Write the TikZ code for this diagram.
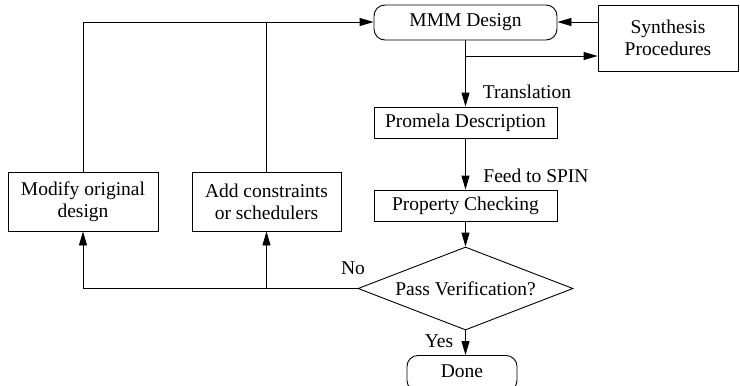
\documentclass[tikz,border=0pt]{standalone}
\usepackage{fontspec}
\setmainfont{Liberation Serif}
\usetikzlibrary{arrows.meta,shapes.geometric}
\begin{document}
\begin{tikzpicture}[x=1pt,y=-1pt,
  every node/.style={font=\fontsize{19.5}{22}\selectfont},
  box/.style={draw,line width=0.9pt,inner sep=0pt,align=center},
  rbox/.style={box,rounded corners=11pt},
  decision/.style={draw,line width=0.9pt,diamond,aspect=2.59,inner sep=0pt},
  conn/.style={line width=0.9pt},
  arr/.style={conn,-{Triangle[length=14pt,width=8pt]}},
  lbl/.style={inner sep=0pt}]
\useasboundingbox (0,0) rectangle (740,386);
\node[rbox,minimum width=183pt,minimum height=35pt] (mmm) at (465.5,22.5) {MMM Design};
\node[box,minimum width=140pt,minimum height=66pt] (syn) at (668,38) {Synthesis\\Procedures};
\node[box,minimum width=183pt,minimum height=31pt] (prom) at (465.5,122.5) {Promela Description};
\node[box,minimum width=183pt,minimum height=31pt] (prop) at (465.5,205.5) {Property Checking};
\node[decision,minimum width=215pt,minimum height=83pt] (pass) at (465.5,288.5) {Pass Verification?};
\node[rbox,minimum width=110pt,minimum height=36pt,anchor=north] (done) at (462,355) {};
\node[lbl] (donet) at (462,371) {Done};
\node[box,minimum width=150pt,minimum height=59pt] (mod) at (83,201.5) {Modify original\\design};
\node[box,minimum width=149pt,minimum height=59pt] (add) at (266.5,201.5) {Add constraints\\or schedulers};
\coordinate (br) at (465.5,56);
\coordinate (tl) at (83,22);
\coordinate (ta) at (266.5,22);
\coordinate (bl) at (83,288.5);
\coordinate (ba) at (266.5,288.5);
\draw[arr] (mmm.south) -- (prom.north);
\draw[arr] (br) -- (br -| syn.west);
\draw[arr] (syn.west |- tl) -- (mmm.east |- tl);
\draw[arr] (prom.south) -- (prop.north);
\draw[arr] (prop.south) -- (pass.north);
\draw[arr] (pass.south) -- (pass.south |- done.north);
\draw[conn] (pass.west) -- (bl);
\draw[arr] (bl) -- (mod.south);
\draw[arr] (ba) -- (add.south);
\draw[arr] (mod.north) -- (tl) -- (mmm.west |- tl);
\draw[conn] (add.north) -- (ta);
\node[lbl] (tr) at (527,92) {Translation};
\node[lbl] (fs) at (536,176) {Feed to SPIN};
\node[lbl] (no) at (353,268) {No};
\node[lbl] (yes) at (439,341) {Yes};
\end{tikzpicture}
\end{document}
